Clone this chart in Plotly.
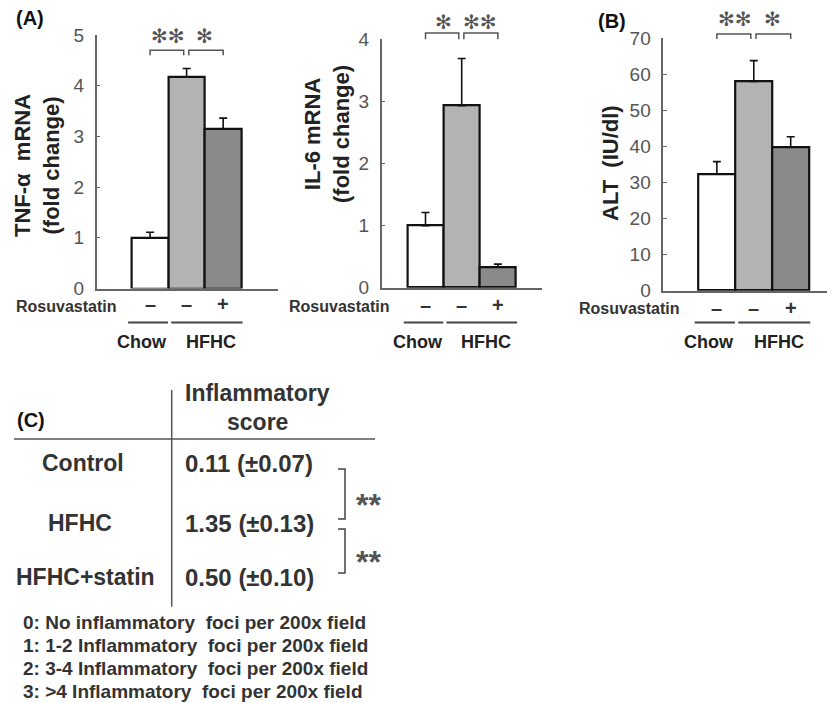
import plotly.graph_objects as go

W, H = 835, 703
OX, OY = 8, 8          # page body margin in the browser
FONT = "Liberation Sans, Arial, sans-serif"

# ---------------- data ----------------
treatment = ["–", "–", "+"]            # Rosuvastatin
diet_groups = ["Chow", "HFHC"]
tnf_mean = [1.00, 4.17, 3.14]
tnf_err = [0.11, 0.17, 0.22]
il6_mean = [1.00, 2.93, 0.33]
il6_err = [0.21, 0.76, 0.05]
alt_mean = [32.4, 58.0, 39.9]
alt_err = [3.4, 5.8, 2.8]
tnf_ticks = [0, 1, 2, 3, 4, 5]
il6_ticks = [0, 1, 2, 3, 4]
alt_ticks = [0, 10, 20, 30, 40, 50, 60, 70]
tnf_sig = ["**", "*"]
il6_sig = ["*", "**"]
alt_sig = ["**", "*"]

score_groups = ["Control", "HFHC", "HFHC+statin"]
score_mean = [0.11, 1.35, 0.50]
score_sd = [0.07, 0.13, 0.10]
score_sig = ["**", "**"]
score_legend = [
    "0: No inflammatory  foci per 200x field",
    "1: 1-2 Inflammatory  foci per 200x field",
    "2: 3-4 Inflammatory  foci per 200x field",
    "3: >4 Inflammatory  foci per 200x field",
]

bar_colors = ["#ffffff", "#b3b3b3", "#8a8a8a"]

# ---------------- panel geometry (page pixels) ----------------
panels = [
    dict(key="", x0=96.7, x1=278.0, ybot=288.5, ytop=35.0, xr=[-1.46, 3.5], yr=[0, 5],
         mean=tnf_mean, err=tnf_err, ticks=tnf_ticks, sig=tnf_sig, brk=4.70, hook=4.60, star=4.98,
         title="TNF-α  mRNA<br>(fold change)", tx=37, ty=166, rx=118, ry=306, ly=304),
    dict(key="2", x0=381.7, x1=541.7, ybot=287.7, ytop=39.3, xr=[-1.21, 3.21], yr=[0, 4],
         mean=il6_mean, err=il6_err, ticks=il6_ticks, sig=il6_sig, brk=4.10, hook=4.00, star=4.28,
         title="IL-6 mRNA<br>(fold change)", tx=327, ty=134, rx=391, ry=306, ly=305),
    dict(key="3", x0=663.3, x1=835.0, ybot=290.7, ytop=38.3, xr=[-1.45, 3.2], yr=[0, 70],
         mean=alt_mean, err=alt_err, ticks=alt_ticks, sig=alt_sig, brk=71.2, hook=69.8, star=75.3,
         title="ALT  (IU/dl)", tx=611, ty=163, rx=681, ry=309, ly=308),
]


def P(xpx, ypx):
    return (xpx - OX) / W, 1 - (ypx - OY) / H


def D(p, xd, yd):
    """data -> paper, using the panel's axis range and domain"""
    xpx = p["x0"] + (xd - p["xr"][0]) / (p["xr"][1] - p["xr"][0]) * (p["x1"] - p["x0"])
    ypx = p["ybot"] - (yd - p["yr"][0]) / (p["yr"][1] - p["yr"][0]) * (p["ybot"] - p["ytop"])
    return P(xpx, ypx)


fig = go.Figure()
shapes = []
annotations = []
layout = dict(width=W, height=H, margin=dict(l=0, r=0, t=0, b=0, autoexpand=False),
              paper_bgcolor="white", plot_bgcolor="white", showlegend=False,
              font=dict(family=FONT, color="#222"), bargap=0)

for p in panels:
    k = p["key"]
    xs = list(range(len(p["mean"])))
    fig.add_trace(go.Bar(
        x=xs, y=p["mean"], width=1,
        marker=dict(color=bar_colors, line=dict(color="#111", width=2.2)),
        error_y=dict(type="data", array=p["err"], arrayminus=[0] * len(xs), symmetric=False,
                     color="#111", thickness=1.6, width=4),
        xaxis="x" + k, yaxis="y" + k, hoverinfo="skip"))
    dx0, _ = P(p["x0"], 0)
    dx1, _ = P(p["x1"], 0)
    _, dyb = P(0, p["ybot"])
    _, dyt = P(0, p["ytop"])
    layout["xaxis" + k] = dict(
        domain=[dx0, min(dx1, 1.0)], range=p["xr"], anchor="y" + k, automargin=False,
        showline=True, linecolor="#666", linewidth=1.5, showgrid=False, zeroline=False,
        tickvals=xs, showticklabels=False, ticks="", fixedrange=True)
    layout["yaxis" + k] = dict(
        domain=[dyb, dyt], range=p["yr"], anchor="x" + k, automargin=False,
        showline=True, linecolor="#666", linewidth=1.5, showgrid=False, zeroline=False,
        tickvals=p["ticks"], ticks="inside", ticklen=4, tickcolor="#666", ticklabelstandoff=7,
        tickfont=dict(family=FONT, size=19, color="#555"), fixedrange=True)

    # treatment (Rosuvastatin -/+) labels under each bar
    for xi, t in zip(xs, treatment):
        lx, ly = D(p, xi, 0)
        ly = P(0, p["ly"])[1]
        annotations.append(dict(xref="paper", yref="paper", x=lx, y=ly, text="<b>" + t + "</b>",
                                showarrow=False, xanchor="center", yanchor="middle",
                                font=dict(family=FONT, size=20, color="#333")))

    # significance brackets
    for bi, lab in enumerate(p["sig"]):
        a, b = bi, bi + 1
        xa = a + (0.06 if bi == 1 else 0.0)
        xb = b - (0.08 if bi == 0 else 0.0)
        (pa, yl), (pb, yt) = D(p, xa, p["hook"]), D(p, xb, p["brk"])
        shapes.append(dict(type="path", xref="paper", yref="paper",
                           path=f"M{pa},{yl} L{pa},{yt} L{pb},{yt} L{pb},{yl}",
                           line=dict(color="#555", width=1.5)))
        sx, sy = D(p, (a + b) / 2.0, p["star"])
        annotations.append(dict(xref="paper", yref="paper", x=sx, y=sy, text=lab.replace("*", "✻"),
                                showarrow=False, xanchor="center", yanchor="middle",
                                font=dict(family="DejaVu Sans", size=20, color="#555")))

    # axis title
    tx, ty = P(p["tx"], p["ty"])
    annotations.append(dict(xref="paper", yref="paper", x=tx, y=ty, text="<b>" + p["title"] + "</b>",
                            textangle=-90, showarrow=False, xanchor="center", yanchor="middle",
                            font=dict(family=FONT, size=22, color="#222")))
    # Rosuvastatin row label
    rx, ry = P(p["rx"], p["ry"])
    annotations.append(dict(xref="paper", yref="paper", x=rx, y=ry, text="<b>Rosuvastatin</b>",
                            showarrow=False, xanchor="right", yanchor="middle",
                            font=dict(family=FONT, size=16, color="#333")))
    # diet group lines + labels
    spans = [(-0.6, 0.49), (0.58, 2.53)]
    centers = [-0.22, 1.67]
    for g, (s0, s1), c in zip(diet_groups, spans, centers):
        ga, _ = D(p, s0, 0)
        gb, _ = D(p, s1, 0)
        gy = P(0, 322.5)[1]
        shapes.append(dict(type="line", xref="paper", yref="paper", x0=ga, x1=gb, y0=gy, y1=gy,
                           line=dict(color="#444", width=1.8)))
        cx, _ = D(p, c, 0)
        annotations.append(dict(xref="paper", yref="paper", x=cx, y=P(0, 342)[1], text="<b>" + g + "</b>",
                                showarrow=False, xanchor="center", yanchor="middle",
                                font=dict(family=FONT, size=18, color="#222")))

# panel letters
for lab, xpx, ypx in [("(A)", 30, 18), ("(B)", 612, 21), ("(C)", 31, 420)]:
    x, y = P(xpx, ypx)
    annotations.append(dict(xref="paper", yref="paper", x=x, y=y, text="<b>" + lab + "</b>",
                            showarrow=False, xanchor="center", yanchor="middle",
                            font=dict(family=FONT, size=20, color="#111")))

# ---------------- table (C) ----------------
def hline(x0, y0, x1, y1, color="#555", width=1.5):
    a, b = P(x0, y0)
    c, d = P(x1, y1)
    shapes.append(dict(type="line", xref="paper", yref="paper", x0=a, y0=b, x1=c, y1=d,
                       line=dict(color=color, width=width)))

hline(171.7, 390, 171.7, 606.7)
hline(14, 439, 375, 439)

for txt, ypx in [("Inflammatory", 393), ("score", 421.5)]:
    x, y = P(257, ypx)
    annotations.append(dict(xref="paper", yref="paper", x=x, y=y, text="<b>" + txt + "</b>",
                            showarrow=False, xanchor="center", yanchor="middle",
                            font=dict(family=FONT, size=23, color="#333")))

row_y = [463, 523, 577]
row_x = [83, 80, 85]
for g, m, s, ry, rxp in zip(score_groups, score_mean, score_sd, row_y, row_x):
    x, y = P(rxp, ry)
    annotations.append(dict(xref="paper", yref="paper", x=x, y=y, text="<b>" + g + "</b>",
                            showarrow=False, xanchor="center", yanchor="middle",
                            font=dict(family=FONT, size=23, color="#333")))
    x, y = P(249, ry)
    annotations.append(dict(xref="paper", yref="paper", x=x, y=y,
                            text=f"<b>{m:.2f} (±{s:.2f})</b>",
                            showarrow=False, xanchor="center", yanchor="middle",
                            font=dict(family=FONT, size=24, color="#333")))

for i, lab in enumerate(score_sig):
    ya, yb = row_y[i] + 6, row_y[i + 1] - 4
    pts = [P(338, ya), P(345, ya), P(345, yb), P(338, yb)]
    path = "M" + " L".join(f"{a},{b}" for a, b in pts)
    shapes.append(dict(type="path", xref="paper", yref="paper", path=path,
                       line=dict(color="#444", width=1.5)))
    x, y = P(368, (ya + yb) / 2 + 3)
    annotations.append(dict(xref="paper", yref="paper", x=x, y=y, text="<b>" + lab + "</b>",
                            showarrow=False, xanchor="center", yanchor="middle",
                            font=dict(family=FONT, size=32, color="#555"), yshift=-8))

for i, line in enumerate(score_legend):
    x, y = P(21, 622 + i * 23)
    annotations.append(dict(xref="paper", yref="paper", x=x, y=y, text="<b>" + line + "</b>",
                            showarrow=False, xanchor="left", yanchor="middle",
                            font=dict(family=FONT, size=19, color="#333")))

layout["shapes"] = shapes
layout["annotations"] = annotations
fig.update_layout(**layout)
fig.write_html("out.html")
